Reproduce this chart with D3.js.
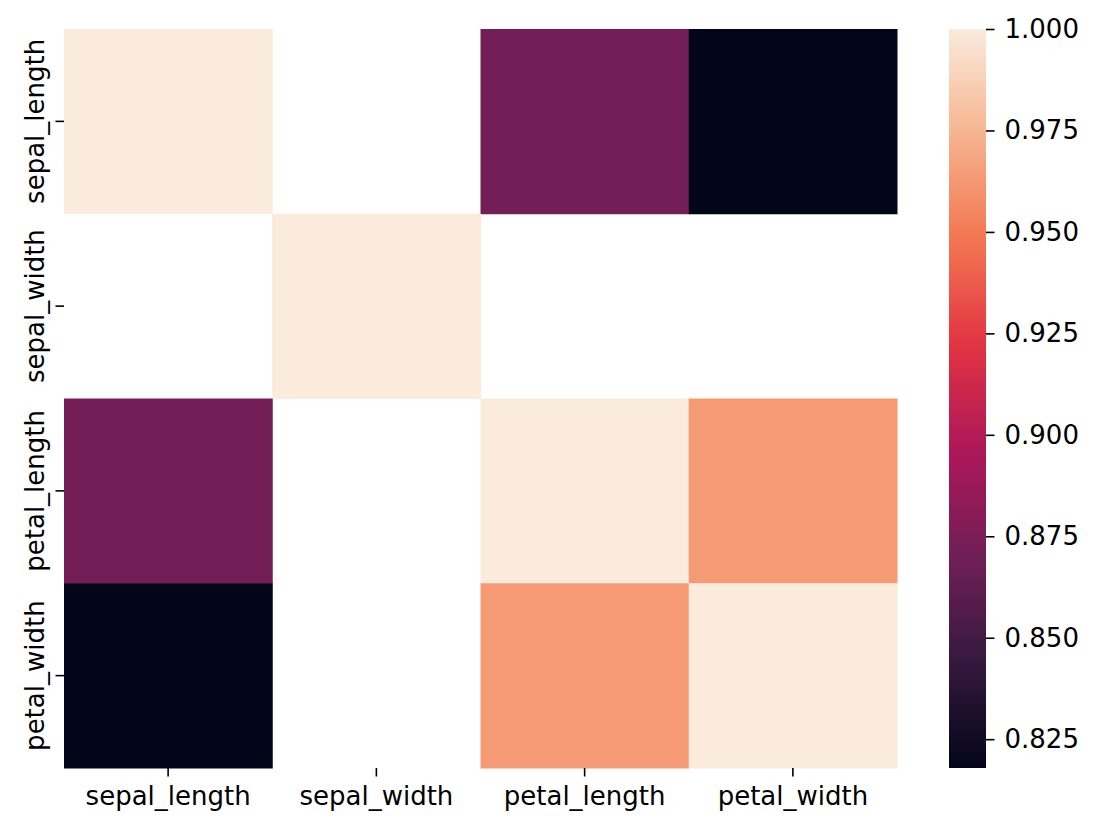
<!DOCTYPE html>
<html><head><meta charset="utf-8">
<script src="https://cdn.jsdelivr.net/npm/d3@7"></script>
<style>body{margin:0;background:#fff}svg{display:block}text{font-family:"DejaVu Sans",sans-serif}</style>
</head><body>
<script>
const variables = ["sepal_length","sepal_width","petal_length","petal_width"];
// correlation matrix (masked: null = not shown)
const rowSepalLength = [1.0, null, 0.8718, 0.8179];
const rowSepalWidth  = [null, 1.0, null, null];
const rowPetalLength = [0.8718, null, 1.0, 0.9629];
const rowPetalWidth  = [0.8179, null, 0.9629, 1.0];
const matrix = [rowSepalLength, rowSepalWidth, rowPetalLength, rowPetalWidth];
const colorbarTicks = [0.825, 0.850, 0.875, 0.900, 0.925, 0.950, 0.975, 1.000];
const vmin = 0.8179, vmax = 1.0;
const rocketStops = ["#03051a","#35193e","#701f57","#ad1759","#e13342","#f37651","#f6b48f","#faebdd"];

const W = 1100, H = 832;
const svg = d3.select("body").append("svg").attr("width", W).attr("height", H);
const L = 64, R = 897, T = 29, B = 768;

const x = d3.scaleBand().domain(variables).range([L, R]).padding(0);
const y = d3.scaleBand().domain(variables).range([T, B]).padding(0);
const rocketInterp = d3.piecewise(d3.interpolateRgb, rocketStops);
const color = d3.scaleSequential(rocketInterp).domain([vmin, vmax]);

const cells = [];
matrix.forEach((row, i) => row.forEach((v, j) => { if (v !== null) cells.push({r: variables[i], c: variables[j], v}); }));
svg.append("g").selectAll("rect").data(cells).join("rect")
  .attr("x", d => x(d.c)).attr("y", d => y(d.r))
  .attr("width", x.bandwidth() + 0.5).attr("height", y.bandwidth() + 0.5)
  .attr("fill", d => color(d.v));

const fs = 26;
const xAxis = svg.append("g").attr("transform", `translate(0,${B})`)
  .call(d3.axisBottom(x).tickSize(8.5).tickPadding(10));
xAxis.select(".domain").remove();
xAxis.selectAll("line").attr("stroke", "#000").attr("stroke-width", 1.6);
xAxis.selectAll("text").attr("font-size", fs).attr("fill", "#000").attr("font-family", "DejaVu Sans");

const yAxis = svg.append("g").attr("transform", `translate(${L},0)`)
  .call(d3.axisLeft(y).tickSize(8.5).tickPadding(6));
yAxis.select(".domain").remove();
yAxis.selectAll("line").attr("stroke", "#000").attr("stroke-width", 1.6);
yAxis.selectAll("text").attr("font-size", fs).attr("fill", "#000").attr("font-family", "DejaVu Sans")
  .attr("transform", "rotate(-90)").attr("text-anchor", "middle")
  .attr("x", 0).attr("dy", 0).attr("y", -20);

// colorbar
const cbL = 949, cbR = 986;
const cy = d3.scaleLinear().domain([vmin, vmax]).range([B, T]);
const defs = svg.append("defs");
const grad = defs.append("linearGradient").attr("id", "cbg").attr("x1", 0).attr("y1", 1).attr("x2", 0).attr("y2", 0);
d3.range(0, 1.0001, 0.02).forEach(t => grad.append("stop").attr("offset", t).attr("stop-color", rocketInterp(t)));
svg.append("rect").attr("x", cbL).attr("y", T).attr("width", cbR - cbL).attr("height", B - T).attr("fill", "url(#cbg)");
const cAxis = svg.append("g").attr("transform", `translate(${cbR},0)`)
  .call(d3.axisRight(cy).tickValues(colorbarTicks).tickFormat(d3.format(".3f")).tickSize(8.5).tickPadding(10));
cAxis.select(".domain").remove();
cAxis.selectAll("line").attr("stroke", "#000").attr("stroke-width", 1.6);
cAxis.selectAll("text").attr("font-size", fs).attr("fill", "#000").attr("font-family", "DejaVu Sans");
</script>
</body></html>
